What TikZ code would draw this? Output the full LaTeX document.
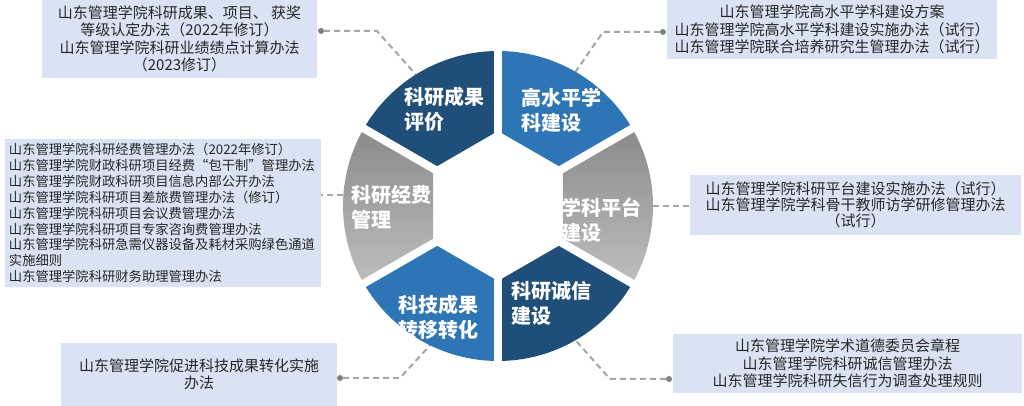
\documentclass[tikz,border=0pt]{standalone}
\usepackage{fontspec}
\setmainfont{Noto Sans CJK SC}
\usetikzlibrary{calc}
\definecolor{navy}{HTML}{1F4E79}
\definecolor{midblue}{HTML}{2E75B6}
\definecolor{boxfill}{HTML}{DAE3F3}
\definecolor{conncol}{HTML}{A6A6A6}
\definecolor{dotcol}{HTML}{7F7F7F}
\definecolor{gtop}{HTML}{8A8A8A}
\definecolor{gbot}{HTML}{BEBEBE}
\definecolor{txtcol}{HTML}{262626}
\begin{document}
\begin{tikzpicture}[x=1pt,y=1pt,
  box/.style={fill=boxfill, draw=none, text=txtcol, align=center, inner sep=0pt,
    font=\fontsize{15}{17.5}\selectfont},
  seglabel/.style={text=white, align=left, anchor=west, inner sep=0pt,
    font=\bfseries\fontsize{20}{25}\selectfont},
  conn/.style={draw=conncol, line width=2pt, dash pattern=on 6pt off 4pt},
  enddot/.style={fill=dotcol, circle, inner sep=0pt, minimum size=6pt},
  gapline/.style={white, line width=8pt}]

\useasboundingbox (0,0) rectangle (1024,406);
\fill[white] (0,0) rectangle (1024,406);

\coordinate (C) at (498,200);
\def\Ro{155}
\def\Ri{75}

% ring points for connectors
\coordinate (p1) at ($(C)+(122:155)$);
\coordinate (p2) at ($(C)+(60:155)$);
\coordinate (p3) at ($(C)+(0:155)$);
\coordinate (p4) at ($(C)+(-60:155)$);
\coordinate (p5) at ($(C)+(-116:155)$);
\coordinate (p6) at ($(C)+(176:155)$);

% boxes
\node[box, minimum width=275, minimum height=78] (B1) at (179.5,367)
  {山东管理学院科研成果、项目、 获奖\\等级认定办法（2022年修订）\\山东管理学院科研业绩绩点计算办法\\（2023修订）};
\node[box, minimum width=330, minimum height=59] (B2) at (832,376.5)
  {山东管理学院高水平学科建设方案\\山东管理学院高水平学科建设实施办法（试行）\\山东管理学院联合培养研究生管理办法（试行）};
\node[box, minimum width=331, minimum height=60, font=\fontsize{15}{16}\selectfont] (B3) at (855.5,201)
  {山东管理学院科研平台建设实施办法（试行）\\山东管理学院学科骨干教师访学研修管理办法\\（试行）};
\node[box, minimum width=349, minimum height=59] (B4) at (847.5,42.5)
  {山东管理学院学术道德委员会章程\\山东管理学院科研诚信管理办法\\山东管理学院科研失信行为调查处理规则};
\node[box, minimum width=276, minimum height=63] (B5) at (199,31.5)
  {山东管理学院促进科技成果转化实施\\办法};
\node[box, minimum height=148, text width=308, inner xsep=4pt, align=left,
  font=\fontsize{13.3}{15.9}\selectfont] (B6) at (163,193)
  {山东管理学院科研经费管理办法（2022年修订）\\山东管理学院财政科研项目经费“包干制”管理办法\\山东管理学院财政科研项目信息内部公开办法\\山东管理学院科研项目差旅费管理办法（修订）\\山东管理学院科研项目会议费管理办法\\山东管理学院科研项目专家咨询费管理办法\\山东管理学院科研急需仪器设备及耗材采购绿色通道\\实施细则\\山东管理学院科研财务助理管理办法};

% connectors
\coordinate (k1) at (377,375);
\coordinate (k2) at (603,374);
\coordinate (k4) at (610,27);
\coordinate (k5) at (400,28);
\node[enddot] (d1) at (321,375) {};
\node[enddot] (d2) at (663,374) {};
\node[enddot] (d4) at (669,27) {};
\node[enddot] (d5) at (340,28) {};
\draw[conn] (d1) -- (k1) -- (p1);
\draw[conn] (d2) -- (k2) -- (p2);
\draw[conn] (p3) -- (p3 -| B3.west);
\draw[conn] (d4) -- (k4) -- (p4);
\draw[conn] (d5) -- (k5) -- (p5);
\draw[conn] (p6) -- (p6 -| B6.east);

% ring segments
\begin{scope}[shift={(C)}]
  \fill[navy] (90:\Ri) -- (90:\Ro) arc[start angle=90,end angle=150,radius=\Ro] -- (150:\Ri) -- cycle;
  \fill[midblue] (30:\Ri) -- (30:\Ro) arc[start angle=30,end angle=90,radius=\Ro] -- (90:\Ri) -- cycle;
  \shade[top color=gtop, bottom color=gbot] (-30:\Ri) -- (-30:\Ro) arc[start angle=-30,end angle=30,radius=\Ro] -- (30:\Ri) -- cycle;
  \fill[navy] (-90:\Ri) -- (-90:\Ro) arc[start angle=-90,end angle=-30,radius=\Ro] -- (-30:\Ri) -- cycle;
  \fill[midblue] (-150:\Ri) -- (-150:\Ro) arc[start angle=-150,end angle=-90,radius=\Ro] -- (-90:\Ri) -- cycle;
  \shade[top color=gtop, bottom color=gbot] (150:\Ri) -- (150:\Ro) arc[start angle=150,end angle=210,radius=\Ro] -- (210:\Ri) -- cycle;
  \foreach \a in {30,90,150,210,270,330}
    \draw[gapline] (0,0) -- (\a:165);
\end{scope}

% segment labels
\node[seglabel] (L1) at (404,296.5) {科研成果\\评价};
\node[seglabel] (L2) at (521,296) {高水平学\\科建设};
\node[seglabel] (L3) at (561,185.5) {学科平台\\建设};
\node[seglabel] (L4) at (511,102.5) {科研诚信\\建设};
\node[seglabel] (L5) at (398,88.5) {科技成果\\转移转化};
\node[seglabel] (L6) at (351,198.5) {科研经费\\管理};
\end{tikzpicture}
\end{document}
